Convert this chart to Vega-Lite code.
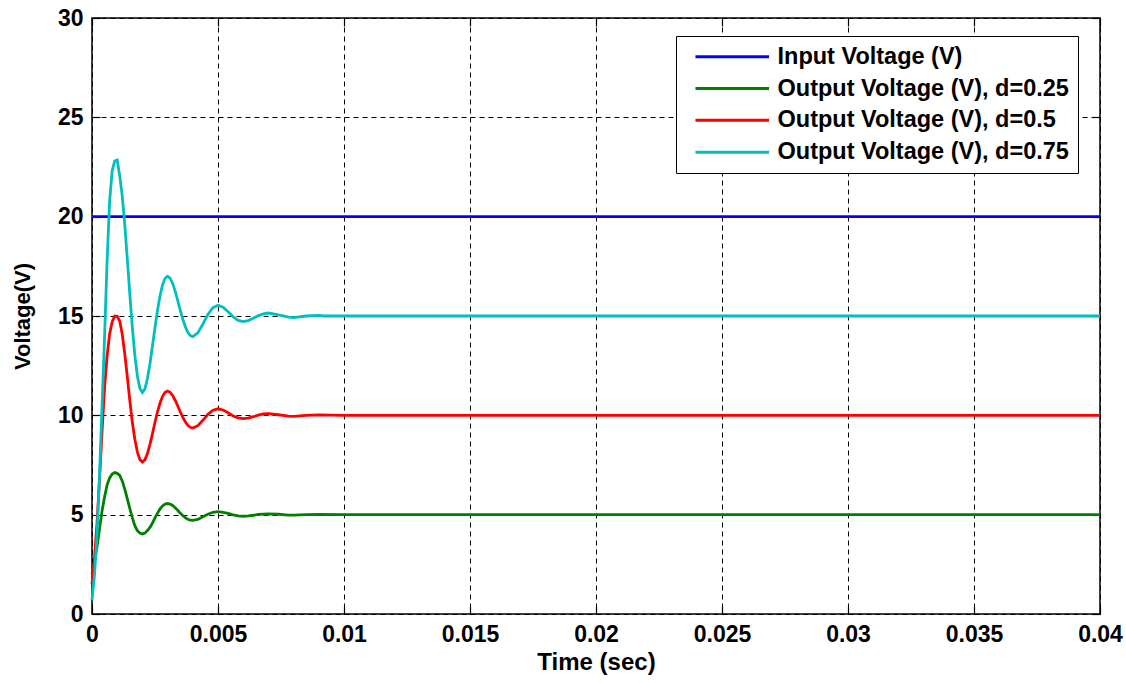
{
  "$schema": "https://vega.github.io/schema/vega-lite/v6.json",
  "width": 1008,
  "height": 596,
  "autosize": {"type": "none"},
  "padding": {"left": 92, "top": 18, "right": 26, "bottom": 69},
  "background": "white",
  "config": {
    "view": {"stroke": "black", "strokeWidth": 1.5},
    "font": "Liberation Sans",
    "axis": {
      "labelFont": "Liberation Sans", "labelFontWeight": "bold", "labelFontSize": 23, "labelColor": "black",
      "titleFont": "Liberation Sans", "titleFontWeight": "bold", "titleFontSize": 24, "titleColor": "black",
      "gridColor": "black", "gridDash": [5, 4], "gridOpacity": 1, "gridWidth": 1,
      "domain": false, "tickColor": "black", "tickSize": -8, "tickWidth": 1.2,
      "labelFlush": false, "labelOverlap": false
    }
  },
  "data": {"values": [
    {"s":"in","t":0,"v":20},{"s":"in","t":0.04,"v":20},
    {"s":"g","t":0,"v":2.0},{"s":"g","t":0.0001,"v":2.6},{"s":"g","t":0.0002,"v":3.4},{"s":"g","t":0.0003,"v":4.3},{"s":"g","t":0.0004,"v":5.2},{"s":"g","t":0.0005,"v":5.9},{"s":"g","t":0.0006,"v":6.5},{"s":"g","t":0.0007,"v":6.85},{"s":"g","t":0.0008,"v":7.05},{"s":"g","t":0.0009,"v":7.12},{"s":"g","t":0.001,"v":7.08},{"s":"g","t":0.0011,"v":6.98},{"s":"g","t":0.0012,"v":6.7},{"s":"g","t":0.0013,"v":6.29},{"s":"g","t":0.0014,"v":5.81},{"s":"g","t":0.0015,"v":5.31},{"s":"g","t":0.0016,"v":4.84},{"s":"g","t":0.0017,"v":4.45},{"s":"g","t":0.0018,"v":4.2},{"s":"g","t":0.0019,"v":4.07},{"s":"g","t":0.002,"v":4.03},{"s":"g","t":0.0021,"v":4.07},{"s":"g","t":0.0022,"v":4.2},{"s":"g","t":0.0023,"v":4.36},{"s":"g","t":0.0024,"v":4.58},{"s":"g","t":0.0025,"v":4.84},{"s":"g","t":0.0026,"v":5.08},{"s":"g","t":0.0027,"v":5.29},{"s":"g","t":0.0028,"v":5.44},{"s":"g","t":0.0029,"v":5.53},{"s":"g","t":0.003,"v":5.56},{"s":"g","t":0.0031,"v":5.53},{"s":"g","t":0.0032,"v":5.46},{"s":"g","t":0.0033,"v":5.35},{"s":"g","t":0.0034,"v":5.22},{"s":"g","t":0.0035,"v":5.08},{"s":"g","t":0.0036,"v":4.96},{"s":"g","t":0.0037,"v":4.85},{"s":"g","t":0.0038,"v":4.77},{"s":"g","t":0.0039,"v":4.72},{"s":"g","t":0.004,"v":4.71},{"s":"g","t":0.0042,"v":4.76},{"s":"g","t":0.0044,"v":4.89},{"s":"g","t":0.0046,"v":5.02},{"s":"g","t":0.0048,"v":5.12},{"s":"g","t":0.005,"v":5.15},{"s":"g","t":0.0052,"v":5.12},{"s":"g","t":0.0054,"v":5.06},{"s":"g","t":0.0056,"v":4.99},{"s":"g","t":0.0058,"v":4.94},{"s":"g","t":0.006,"v":4.92},{"s":"g","t":0.0062,"v":4.94},{"s":"g","t":0.0064,"v":4.97},{"s":"g","t":0.0066,"v":5.01},{"s":"g","t":0.0068,"v":5.03},{"s":"g","t":0.007,"v":5.04},{"s":"g","t":0.0074,"v":5.02},{"s":"g","t":0.0078,"v":4.98},{"s":"g","t":0.008,"v":4.98},{"s":"g","t":0.0085,"v":5.0},{"s":"g","t":0.009,"v":5.01},{"s":"g","t":0.01,"v":5.0},{"s":"g","t":0.04,"v":5.0},
    {"s":"r","t":0,"v":1.5},{"s":"r","t":0.0001,"v":2.8},{"s":"r","t":0.0002,"v":4.6},{"s":"r","t":0.0003,"v":6.8},{"s":"r","t":0.0004,"v":9.2},{"s":"r","t":0.0005,"v":11.4},{"s":"r","t":0.0006,"v":13.0},{"s":"r","t":0.0007,"v":14.1},{"s":"r","t":0.0008,"v":14.7},{"s":"r","t":0.0009,"v":15.0},{"s":"r","t":0.001,"v":14.98},{"s":"r","t":0.0011,"v":14.75},{"s":"r","t":0.0012,"v":14.08},{"s":"r","t":0.0013,"v":13.1},{"s":"r","t":0.0014,"v":11.95},{"s":"r","t":0.0015,"v":10.75},{"s":"r","t":0.0016,"v":9.65},{"s":"r","t":0.0017,"v":8.8},{"s":"r","t":0.0018,"v":8.16},{"s":"r","t":0.0019,"v":7.77},{"s":"r","t":0.002,"v":7.65},{"s":"r","t":0.0021,"v":7.76},{"s":"r","t":0.0022,"v":8.08},{"s":"r","t":0.0023,"v":8.54},{"s":"r","t":0.0024,"v":9.08},{"s":"r","t":0.0025,"v":9.65},{"s":"r","t":0.0026,"v":10.18},{"s":"r","t":0.0027,"v":10.62},{"s":"r","t":0.0028,"v":10.96},{"s":"r","t":0.0029,"v":11.16},{"s":"r","t":0.003,"v":11.22},{"s":"r","t":0.0031,"v":11.16},{"s":"r","t":0.0032,"v":11.0},{"s":"r","t":0.0033,"v":10.76},{"s":"r","t":0.0034,"v":10.48},{"s":"r","t":0.0035,"v":10.18},{"s":"r","t":0.0036,"v":9.91},{"s":"r","t":0.0037,"v":9.68},{"s":"r","t":0.0038,"v":9.5},{"s":"r","t":0.0039,"v":9.4},{"s":"r","t":0.004,"v":9.36},{"s":"r","t":0.0042,"v":9.48},{"s":"r","t":0.0044,"v":9.75},{"s":"r","t":0.0046,"v":10.05},{"s":"r","t":0.0048,"v":10.26},{"s":"r","t":0.005,"v":10.33},{"s":"r","t":0.0052,"v":10.27},{"s":"r","t":0.0054,"v":10.13},{"s":"r","t":0.0056,"v":9.97},{"s":"r","t":0.0058,"v":9.87},{"s":"r","t":0.006,"v":9.83},{"s":"r","t":0.0062,"v":9.86},{"s":"r","t":0.0064,"v":9.93},{"s":"r","t":0.0066,"v":10.01},{"s":"r","t":0.0068,"v":10.07},{"s":"r","t":0.007,"v":10.09},{"s":"r","t":0.0074,"v":10.03},{"s":"r","t":0.0078,"v":9.96},{"s":"r","t":0.008,"v":9.95},{"s":"r","t":0.0085,"v":10.0},{"s":"r","t":0.009,"v":10.02},{"s":"r","t":0.01,"v":10.0},{"s":"r","t":0.04,"v":10.0},
    {"s":"c","t":0,"v":0.7},{"s":"c","t":0.0001,"v":2.0},{"s":"c","t":0.0002,"v":4.0},{"s":"c","t":0.0003,"v":7.0},{"s":"c","t":0.0004,"v":10.5},{"s":"c","t":0.0005,"v":14.0},{"s":"c","t":0.0006,"v":17.8},{"s":"c","t":0.0007,"v":20.8},{"s":"c","t":0.0008,"v":22.3},{"s":"c","t":0.0009,"v":22.8},{"s":"c","t":0.001,"v":22.85},{"s":"c","t":0.0011,"v":22.05},{"s":"c","t":0.0012,"v":21.05},{"s":"c","t":0.0013,"v":19.61},{"s":"c","t":0.0014,"v":17.89},{"s":"c","t":0.0015,"v":16.11},{"s":"c","t":0.0016,"v":14.44},{"s":"c","t":0.0017,"v":13.03},{"s":"c","t":0.0018,"v":11.98},{"s":"c","t":0.0019,"v":11.35},{"s":"c","t":0.002,"v":11.15},{"s":"c","t":0.0021,"v":11.33},{"s":"c","t":0.0022,"v":11.85},{"s":"c","t":0.0023,"v":12.6},{"s":"c","t":0.0024,"v":13.5},{"s":"c","t":0.0025,"v":14.42},{"s":"c","t":0.0026,"v":15.29},{"s":"c","t":0.0027,"v":16.02},{"s":"c","t":0.0028,"v":16.57},{"s":"c","t":0.0029,"v":16.9},{"s":"c","t":0.003,"v":17.0},{"s":"c","t":0.0031,"v":16.91},{"s":"c","t":0.0032,"v":16.64},{"s":"c","t":0.0033,"v":16.25},{"s":"c","t":0.0034,"v":15.78},{"s":"c","t":0.0035,"v":15.3},{"s":"c","t":0.0036,"v":14.85},{"s":"c","t":0.0037,"v":14.47},{"s":"c","t":0.0038,"v":14.18},{"s":"c","t":0.0039,"v":14.01},{"s":"c","t":0.004,"v":13.96},{"s":"c","t":0.0042,"v":14.15},{"s":"c","t":0.0044,"v":14.59},{"s":"c","t":0.0046,"v":15.08},{"s":"c","t":0.0048,"v":15.42},{"s":"c","t":0.005,"v":15.54},{"s":"c","t":0.0052,"v":15.44},{"s":"c","t":0.0054,"v":15.21},{"s":"c","t":0.0056,"v":14.96},{"s":"c","t":0.0058,"v":14.78},{"s":"c","t":0.006,"v":14.72},{"s":"c","t":0.0062,"v":14.77},{"s":"c","t":0.0064,"v":14.89},{"s":"c","t":0.0066,"v":15.02},{"s":"c","t":0.0068,"v":15.11},{"s":"c","t":0.007,"v":15.15},{"s":"c","t":0.0074,"v":15.06},{"s":"c","t":0.0078,"v":14.94},{"s":"c","t":0.008,"v":14.92},{"s":"c","t":0.0085,"v":15.0},{"s":"c","t":0.009,"v":15.03},{"s":"c","t":0.0092,"v":15.0},{"s":"c","t":0.01,"v":15.0},{"s":"c","t":0.04,"v":15.0}
  ]},
  "layer": [
    {
      "mark": {"type": "line", "strokeWidth": 2.8, "interpolate": "linear"},
      "encoding": {
        "x": {"field": "t", "type": "quantitative",
              "scale": {"domain": [0, 0.04], "nice": false, "zero": false},
              "axis": {"title": "Time (sec)", "values": [0, 0.005, 0.01, 0.015, 0.02, 0.025, 0.03, 0.035, 0.04], "format": "~g", "labelPadding": 17, "titlePadding": 4}},
        "y": {"field": "v", "type": "quantitative",
              "scale": {"domain": [0, 30], "nice": false},
              "axis": {"title": "Voltage(V)", "titleFontSize": 22, "values": [0, 5, 10, 15, 20, 25, 30], "format": "d", "labelPadding": 17, "titlePadding": 23}},
        "color": {"field": "s", "type": "nominal",
                  "scale": {"domain": ["in", "g", "r", "c"], "range": ["#0000FF", "#008000", "#FF0000", "#00BFBF"]},
                  "legend": {"orient": "none", "legendX": 584, "legendY": 18, "title": null,
                             "labelExpr": "{'in': 'Input Voltage (V)', 'g': 'Output Voltage (V), d=0.25', 'r': 'Output Voltage (V), d=0.5', 'c': 'Output Voltage (V), d=0.75'}[datum.label]",
                             "labelFont": "Liberation Sans", "labelFontWeight": "bold", "labelFontSize": 23.5, "labelColor": "black", "labelLimit": 500,
                             "symbolType": "M-4.6,0H4.6", "symbolSize": 256, "symbolStrokeWidth": 3,
                             "symbolOffset": 35.5, "labelOffset": 33.5, "padding": 9, "rowPadding": 6.8,
                             "strokeColor": "black", "fillColor": "white"}}
      }
    },
    {
      "mark": {"type": "point", "opacity": 0},
      "encoding": {
        "x": {"field": "t", "type": "quantitative",
              "axis": {"orient": "top", "labels": false, "title": null, "grid": false, "values": [0, 0.005, 0.01, 0.015, 0.02, 0.025, 0.03, 0.035, 0.04]}},
        "y": {"field": "v", "type": "quantitative",
              "axis": {"orient": "right", "labels": false, "title": null, "grid": false, "values": [0, 5, 10, 15, 20, 25, 30]}}
      }
    }
  ],
  "resolve": {"axis": {"x": "independent", "y": "independent"}}
}
